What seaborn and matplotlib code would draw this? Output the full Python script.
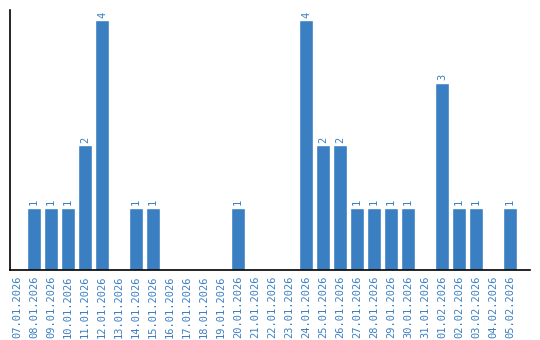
import matplotlib
matplotlib.use("Agg")
import matplotlib.pyplot as plt
import seaborn as sns
import pandas as pd

dates = ["07.01.2026","08.01.2026","09.01.2026","10.01.2026","11.01.2026","12.01.2026",
         "13.01.2026","14.01.2026","15.01.2026","16.01.2026","17.01.2026","18.01.2026",
         "19.01.2026","20.01.2026","21.01.2026","22.01.2026","23.01.2026","24.01.2026",
         "25.01.2026","26.01.2026","27.01.2026","28.01.2026","29.01.2026","30.01.2026",
         "31.01.2026","01.02.2026","02.02.2026","03.02.2026","04.02.2026","05.02.2026"]
counts = [0,1,1,1,2,4,0,1,1,0,0,0,0,1,0,0,0,4,2,2,1,1,1,1,0,3,1,1,0,1]

color = "#3a7fc2"
sns.set_theme(style="white")
plt.rcParams['font.family'] = ['DejaVu Sans Mono', 'DejaVu Sans']

fig = plt.figure(figsize=(5.4, 3.4), dpi=100)
ax = fig.add_axes([10/540, 70/340, 520/540, 260/340])
df = pd.DataFrame({"date": dates, "count": counts})
sns.barplot(data=df, x="date", y="count", color=color, saturation=1, width=0.82, ax=ax)

for i, v in enumerate(counts):
    if v > 0:
        ax.text(i, v + 0.04, str(v), rotation=90, ha="center", va="bottom",
                color=color, fontsize=7.5)

ax.set_xlim(-0.41, 30.18)
ax.set_ylim(0, 4.16)
ax.set_xlabel("")
ax.set_ylabel("")
ax.set_yticks([])
ax.tick_params(axis="x", length=0, pad=4, labelsize=7.5, labelcolor=color, rotation=90)
for s in ["top", "right"]:
    ax.spines[s].set_visible(False)
for s in ["left", "bottom"]:
    ax.spines[s].set_color("black")
    ax.spines[s].set_linewidth(1.2)

fig.savefig("out.png", dpi=100)
